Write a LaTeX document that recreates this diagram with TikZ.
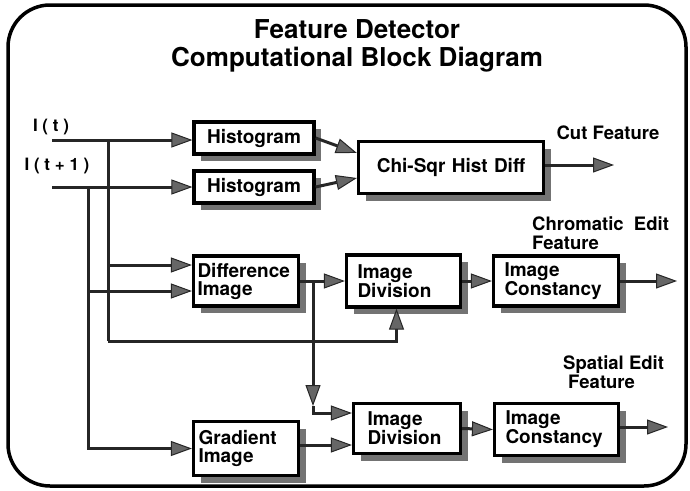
\documentclass[tikz,border=0pt]{standalone}
\usepackage{fontspec}
\setmainfont{TeX Gyre Heros}
\usetikzlibrary{arrows.meta,shadows,calc}
\begin{document}
\begin{tikzpicture}[x=1pt,y=-1pt,
  blk/.style={draw=black,line width=3.2pt,fill=white,
    drop shadow={shadow xshift=7pt,shadow yshift=-7pt,fill=black!55,opacity=1},
    font=\fontsize{19}{18}\selectfont\bfseries,align=left,inner ysep=3pt},
  ln/.style={line width=3pt,draw=black!85},
  arr/.style={ln,-{Triangle[length=21pt,width=15pt,line width=1pt,fill=black!60]}},
  lbl/.style={font=\fontsize{18.5}{19}\selectfont\bfseries,inner sep=0pt,align=left},
]
\useasboundingbox (0,0) rectangle (690,490);

% outer frame
\draw[line width=3.5pt,rounded corners=42pt] (8,5) rectangle (686,486);

% title
\node[font=\fontsize{26}{28}\selectfont\bfseries,align=center] (title) at (357,46)
  {Feature Detector\\Computational Block Diagram};

% input labels
\node[lbl,font=\fontsize{17}{17}\selectfont\bfseries] (lt) at (51,127) {I ( t )};
\node[lbl,font=\fontsize{17}{17}\selectfont\bfseries] (lt1) at (57,166) {I ( t + 1 )};

% blocks
\node[blk,align=center,text width=104pt,inner xsep=8pt,minimum height=32pt] (h1) at (254,138) {Histogram};
\node[blk,align=center,text width=104pt,inner xsep=8pt,minimum height=32pt] (h2) at (254,187) {Histogram};
\node[blk,align=center,text width=165pt,inner xsep=10pt,minimum height=52pt] (chi) at (451,167.5) {Chi-Sqr Hist Diff};
\node[blk,text width=97pt,inner xsep=4pt,minimum height=50pt] (diff) at (246,281) {Difference\\Image};
\node[blk,text width=92pt,inner xsep=11pt,minimum height=52pt] (divA) at (403.5,281) {Image\\Division};
\node[blk,text width=103pt,inner xsep=11pt,minimum height=50pt] (conA) at (556,281) {Image\\Constancy};
\node[blk,text width=95pt,inner xsep=5pt,minimum height=54pt] (grad) at (246,448.5) {Gradient\\Image};
\node[blk,text width=79pt,inner xsep=14pt,minimum height=50pt] (divB) at (407,428.5) {Image\\Division};
\node[blk,text width=102pt,inner xsep=11pt,minimum height=52pt] (conB) at (556.5,429.5) {Image\\Constancy};

% output labels
\node[lbl] (cut) at (608,133) {Cut Feature};
\node[lbl,anchor=west] (chrom) at (532,233) {Chromatic\ \ Edit\\Feature};
\node[lbl,anchor=west] (spat) at (563,372) {Spatial Edit\\\hspace*{5pt}Feature};

% connection points
\coordinate (inA) at (52,140);
\coordinate (inB) at (52,187);
\coordinate (jA) at (108,140);
\coordinate (jB) at (88,187);
\coordinate (fb) at (108,341);
\coordinate (br) at (313,281);
\coordinate (brD) at (313,406);
\coordinate (dIn1) at ([yshift=16pt]diff.west);
\coordinate (dIn2) at ([yshift=-10pt]diff.west);
\coordinate (dbIn1) at ([yshift=15.5pt]divB.west);
\coordinate (dbIn2) at ([yshift=-16.5pt]divB.west);
\coordinate (cutEnd) at (614,165);
\coordinate (outA) at (677,281);
\coordinate (outB) at (668,427);

% inputs
\draw[arr] (inA) -- (h1.west |- inA);
\draw[arr] (inB) -- (h2.west |- inB);
\draw[ln] (jA) -- (fb);
\draw[arr] (fb) -| ([xshift=-7pt]divA.south);
\draw[arr] (jB) |- (grad.west);
\draw[arr] (dIn1 -| jA) -- (dIn1);
\draw[arr] (dIn2 -| jB) -- (dIn2);

% cut path
\draw[arr] (h1.east) -- ([yshift=14.5pt]chi.west);
\draw[arr] (h2.east) -- ([yshift=-10.5pt]chi.west);
\draw[arr] (chi.east |- cutEnd) -- (cutEnd);

% chromatic path
\draw[arr] (diff.east) -- (divA.west);
\draw[arr] (divA.east) -- (conA.west);
\draw[arr] (conA.east) -- (outA);

% spatial path
\draw[arr] (br) -- (brD);
\draw[arr] (brD) |- (dbIn1);
\draw[arr] (grad.east |- dbIn2) -- (dbIn2);
\draw[arr] (divB.east) -- (conB.west);
\draw[arr] (conB.east |- outB) -- (outB);
\end{tikzpicture}
\end{document}
